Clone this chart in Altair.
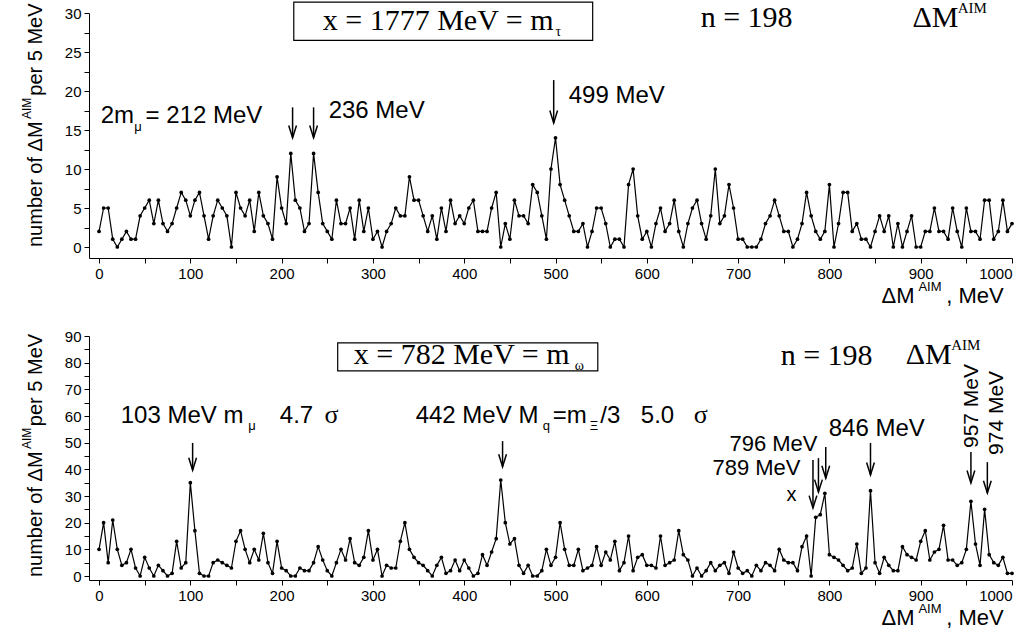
import altair as alt
import pandas as pd

# ---------------- data (5 MeV steps) ----------------
mev = list(range(0, 1001, 5))

top_counts = [
    2, 5, 5, 1, 0, 1, 2, 1, 1, 4,
    5, 6, 3, 6, 3, 2, 3, 5, 7, 6,
    4, 6, 7, 4, 1, 4, 6, 5, 4, 0,
    7, 5, 4, 6, 2, 7, 4, 3, 1, 9,
    5, 3, 12, 6, 5, 2, 3, 12, 7, 3,
    2, 1, 6, 3, 3, 5, 1, 6, 2, 5,
    1, 2, 0, 2, 3, 5, 4, 4, 9, 6,
    6, 4, 2, 4, 1, 5, 2, 6, 3, 4,
    3, 5, 6, 2, 2, 2, 5, 7, 0, 3,
    1, 6, 4, 4, 3, 8, 7, 4, 1, 10,
    14, 8, 6, 4, 2, 2, 3, 0, 2, 5,
    5, 3, 0, 1, 1, 0, 8, 10, 4, 1,
    2, 0, 3, 5, 2, 3, 6, 2, 0, 3,
    5, 6, 3, 1, 4, 10, 3, 4, 8, 5,
    1, 1, 0, 0, 0, 1, 3, 4, 6, 4,
    2, 2, 0, 1, 3, 7, 4, 2, 1, 2,
    8, 0, 3, 7, 7, 2, 3, 1, 1, 0,
    2, 4, 2, 4, 0, 3, 0, 2, 4, 0,
    0, 2, 2, 5, 2, 2, 1, 5, 2, 0,
    5, 2, 2, 1, 6, 6, 1, 2, 6, 2,
    3,
]

bottom_counts = [
    10, 20, 5, 21, 10, 4, 5, 10, 3, 0,
    7, 3, 0, 4, 2, 0, 1, 13, 3, 5,
    35, 17, 1, 0, 0, 5, 6, 5, 4, 3,
    13, 17, 10, 5, 10, 6, 16, 5, 1, 13,
    3, 2, 0, 0, 3, 2, 2, 5, 11, 6,
    2, 0, 5, 10, 6, 14, 5, 4, 7, 17,
    6, 10, 0, 4, 3, 3, 13, 20, 10, 7,
    5, 4, 2, 0, 4, 7, 1, 2, 6, 2,
    6, 3, 0, 1, 8, 4, 9, 14, 36, 20,
    12, 14, 4, 1, 4, 0, 0, 2, 10, 4,
    7, 20, 10, 4, 4, 10, 2, 3, 4, 11,
    4, 9, 6, 13, 2, 5, 15, 2, 7, 8,
    4, 4, 3, 15, 4, 5, 6, 17, 8, 6,
    0, 3, 0, 2, 5, 2, 4, 5, 1, 9,
    3, 1, 2, 0, 4, 2, 5, 4, 2, 10,
    6, 5, 5, 2, 11, 15, 0, 22, 23, 31,
    8, 7, 6, 4, 2, 3, 12, 1, 3, 32,
    5, 1, 7, 4, 2, 2, 11, 8, 7, 6,
    13, 17, 6, 9, 10, 19, 6, 6, 4, 5,
    10, 28, 12, 4, 25, 8, 5, 4, 7, 1,
    1,
]

x_ticks = list(range(0, 1001, 50))
top_y_ticks = [i * 2.5 for i in range(13)]
bottom_y_ticks = list(range(0, 91, 5))

# arrows: x position (MeV), tail and tip (counts)
top_arrow_x = [212, 235, 498]
top_arrow_from = [17.9, 17.9, 21.4]
top_arrow_to = [14.0, 14.0, 15.9]

bot_arrow_x = [102.5, 442, 782, 788, 796, 845, 955, 973]
bot_arrow_from = [49.9, 50.6, 43.5, 44.2, 48.4, 49.9, 46.5, 42.7]
bot_arrow_to = [39.7, 41.0, 25.5, 31.5, 36.7, 37.9, 34.9, 31.1]

SANS = "Liberation Sans, Arial, Helvetica, sans-serif"
SERIF = "Liberation Serif, Times New Roman, serif"

xs = alt.Scale(domain=[-11, 1000], nice=False, zero=False)
x_axis = alt.Axis(values=x_ticks, labelExpr="datum.value % 100 == 0 ? datum.label : ''",
                  format="d", title=None, grid=False, tickSize=5, labelPadding=3)


def X(field="x"):
    return alt.X(f"{field}:Q", scale=xs, axis=x_axis)


def make_panel(counts, ydomain, yticks, ymajor, height, arrows, texts, boxes):
    ys = alt.Scale(domain=ydomain, nice=False, zero=False)
    y_axis = alt.Axis(values=yticks, labelExpr=f"datum.value % {ymajor} == 0 ? datum.label : ''",
                      title=None, grid=False, tickSize=5, labelPadding=3, format="d")

    def Y(field="y"):
        return alt.Y(f"{field}:Q", scale=ys, axis=y_axis)

    df = pd.DataFrame({"x": mev, "y": counts})
    base = alt.Chart(df)
    layers = [
        base.mark_line(color="black", strokeWidth=1.2).encode(x=X(), y=Y()),
        base.mark_circle(color="black", size=14, opacity=1).encode(x=X(), y=Y()),
    ]
    for (x1, x2, y1, y2) in boxes:
        bdf = pd.DataFrame({"x": [x1], "x2": [x2], "y": [y1], "y2": [y2]})
        layers.append(alt.Chart(bdf).mark_rect(fillOpacity=0, stroke="black", strokeWidth=1.2)
                      .encode(x=X(), x2="x2:Q", y=Y(), y2="y2:Q"))
    adf = pd.DataFrame({"x": arrows[0], "y": arrows[1], "y2": arrows[2]})
    layers.append(alt.Chart(adf).mark_rule(color="black", strokeWidth=1.5)
                  .encode(x=X(), y=Y(), y2="y2:Q"))
    hdf = pd.DataFrame({"x": arrows[0], "y": arrows[2]})
    layers.append(alt.Chart(hdf).mark_point(shape="M-1,-3.2L0,0L1,-3.2", filled=False,
                                            color="black", strokeWidth=1.5, size=60, opacity=1)
                  .encode(x=X(), y=Y()))
    for t in texts:
        x, y, s, font, size, align, angle = t
        tdf = pd.DataFrame({"x": [x], "y": [y], "t": [s]})
        layers.append(alt.Chart(tdf).mark_text(font=font, fontSize=size, align=align,
                                               baseline="alphabetic", angle=angle, color="black")
                      .encode(x=X(), y=Y(), text="t:N"))
    return alt.layer(*layers).properties(width=923, height=height)


# annotations: (MeV, count, text, font, size, align, angle)
top_texts = [
    (245, 27.8, "x = 1777 MeV = m", SERIF, 30, "left", 0),
    (500, 27.0, "τ", SERIF, 14, "left", 0),
    (659, 28.2, "n = 198", SERIF, 30, "left", 0),
    (891, 28.2, "ΔM", SERIF, 30, "left", 0),
    (940.5, 30.0, "AIM", SERIF, 15, "left", 0),
    (1.9, 15.9, "2m", SANS, 24, "left", 0),
    (38.5, 14.9, "μ", SANS, 13, "left", 0),
    (51, 15.9, "= 212 MeV", SANS, 24, "left", 0),
    (251.5, 16.5, "236 MeV", SANS, 24, "left", 0),
    (514.5, 18.5, "499 MeV", SANS, 24, "left", 0),
    (857, -7.2, "ΔM", SANS, 22, "left", 0),
    (897.5, -5.7, "AIM", SANS, 13, "left", 0),
    (928, -7.2, ", MeV", SANS, 22, "left", 0),
    (-62.8, 0.0, "number of ΔM", SANS, 20, "left", 270),
    (-74.8, 16.4, "AIM", SANS, 12, "left", 270),
    (-62.8, 19.4, "per 5 MeV", SANS, 20, "left", 270),
]
top_boxes = [(213.3, 540.7, 31.4, 26.5)]

bottom_texts = [
    (279, 79.5, "x = 782 MeV = m", SERIF, 30, "left", 0),
    (521, 77.2, "ω", SERIF, 14, "left", 0),
    (746.6, 79.1, "n = 198", SERIF, 30, "left", 0),
    (883.5, 79.5, "ΔM", SERIF, 30, "left", 0),
    (933.5, 84.7, "AIM", SERIF, 15, "left", 0),
    (23.8, 57.4, "103 MeV m", SANS, 24, "left", 0),
    (163.5, 54.7, "μ", SANS, 13, "left", 0),
    (198, 57.4, "4.7", SANS, 24, "left", 0),
    (247, 57.4, "σ", SERIF, 26, "left", 0),
    (346.8, 57.4, "442 MeV M", SANS, 24, "left", 0),
    (486, 54.7, "q", SANS, 13, "left", 0),
    (497, 57.4, "=m", SANS, 24, "left", 0),
    (537.5, 54.7, "Ξ", SANS, 13, "left", 0),
    (549, 57.4, "/3", SANS, 24, "left", 0),
    (593.4, 57.4, "5.0", SANS, 24, "left", 0),
    (651.4, 57.4, "σ", SERIF, 26, "left", 0),
    (787, 46.8, "796 MeV", SANS, 22, "right", 0),
    (768.3, 38.0, "789 MeV", SANS, 22, "right", 0),
    (758.5, 28.2, "x", SANS, 20, "center", 0),
    (799.3, 52.5, "846 MeV", SANS, 24, "left", 0),
    (962.5, 48.0, "957 MeV", SANS, 21, "left", 270),
    (990, 45.4, "974 MeV", SANS, 21, "left", 270),
    (857, -18.4, "ΔM", SANS, 22, "left", 0),
    (897.5, -14.0, "AIM", SANS, 13, "left", 0),
    (928, -18.4, ", MeV", SANS, 22, "left", 0),
    (-62.8, -0.4, "number of ΔM", SANS, 20, "left", 270),
    (-74.8, 47.6, "AIM", SANS, 12, "left", 270),
    (-62.8, 56.2, "per 5 MeV", SANS, 20, "left", 270),
]
bottom_boxes = [(261.4, 546.3, 87.4, 76.9)]

top = make_panel(top_counts, [-1.41, 30], top_y_ticks, 5, 245,
                 (top_arrow_x, top_arrow_from, top_arrow_to), top_texts, top_boxes)
bottom = make_panel(bottom_counts, [-1.5, 90], bottom_y_ticks, 10, 244,
                    (bot_arrow_x, bot_arrow_from, bot_arrow_to), bottom_texts, bottom_boxes)

chart = alt.vconcat(top, bottom, spacing=78, bounds="flush").properties(
    padding={"left": 20, "top": 1, "right": 0, "bottom": 0},
    background="white",
).configure_view(stroke=None).configure_axis(
    domainColor="black", tickColor="black", labelColor="black",
    labelFont=SANS, labelFontSize=15, domainWidth=1, tickWidth=1,
)

chart.save("out.html", embed_options={"renderer": "svg", "actions": False})
